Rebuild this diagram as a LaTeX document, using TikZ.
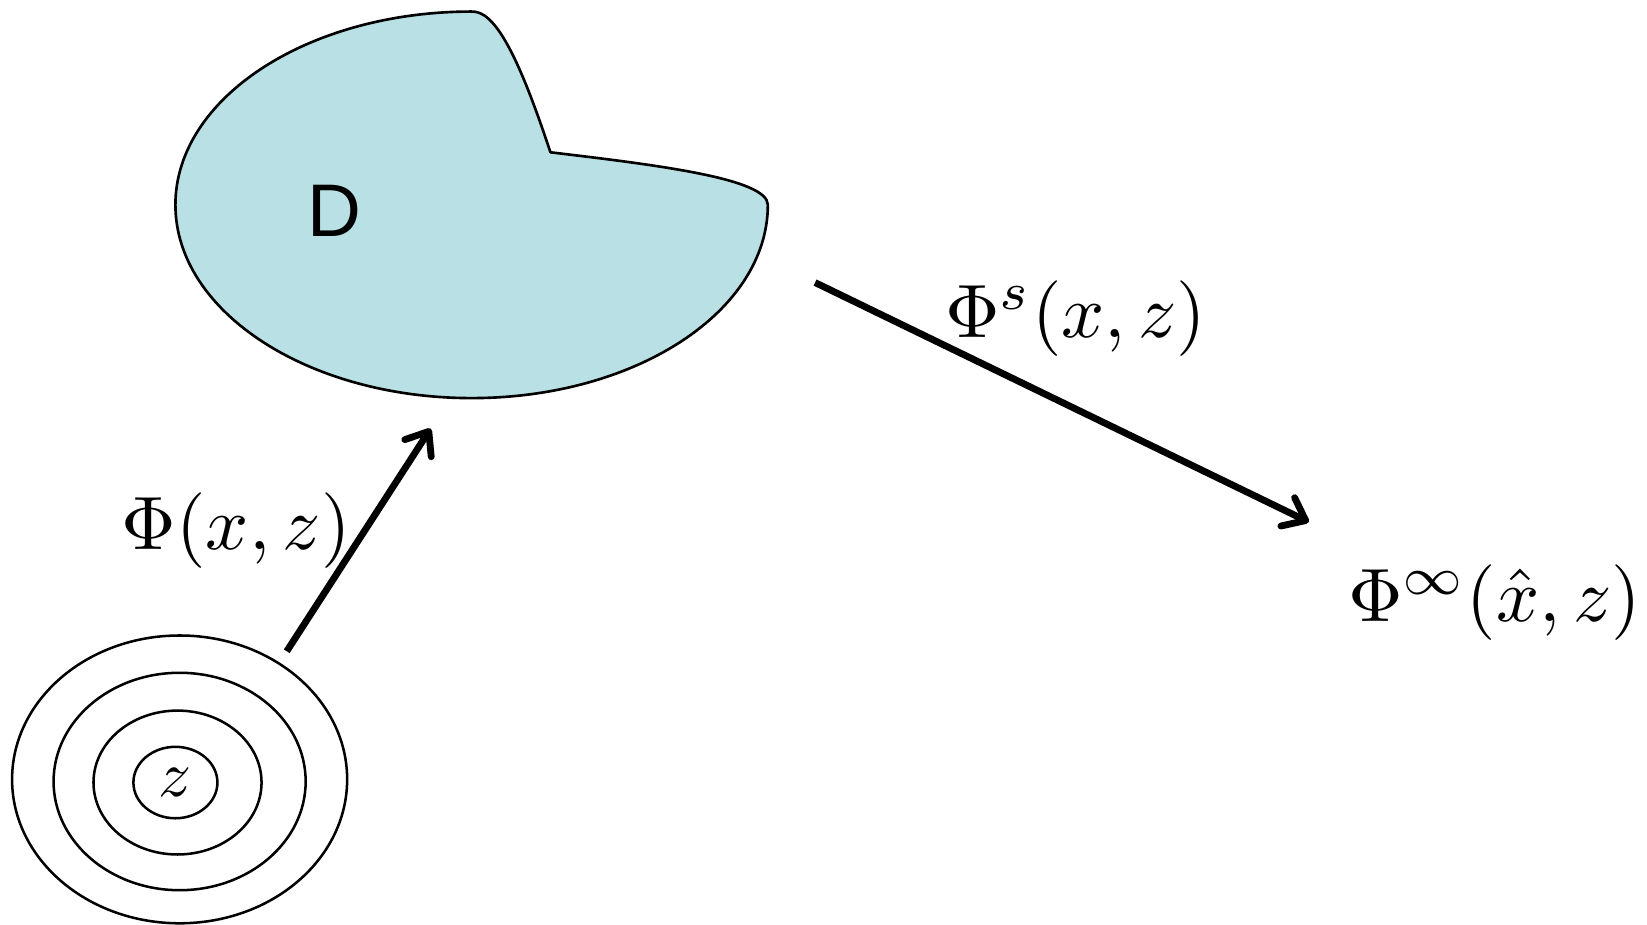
\documentclass[tikz,border=0pt]{standalone}
\usepackage[no-math]{fontspec}
\newfontfamily\arialfont{Liberation Sans}
\usetikzlibrary{arrows.meta,shapes.geometric}
\definecolor{dfill}{RGB}{185,224,228}
\tikzset{
  ring/.style={ellipse, draw, line width=2.4pt, inner sep=0pt},
  arr/.style={line width=6.5pt, -{Straight Barb[length=19pt,width=30pt,round]}},
  lab/.style={inner sep=0pt, scale=7.2, transform shape},
}
\begin{document}
\begin{tikzpicture}[x=1pt,y=-1pt]
\useasboundingbox (0,0) rectangle (1568,880);
% domain D
\draw[fill=dfill, line width=2.5pt, line join=round]
  (524,145) .. controls (625,157) and (731,170) .. (731,195)
  arc[start angle=0, end angle=270, x radius=282, y radius=184]
  .. controls (470,10) and (492,48) .. cycle;
\node[font=\arialfont, inner sep=0pt, scale=7.1, transform shape] (D) at (318,201) {D};
% rings around z
\node[ring, minimum width=319pt, minimum height=274pt] (r4) at (171,742) {};
\node[ring, minimum width=240pt, minimum height=207pt] (r3) at (171,744) {};
\node[ring, minimum width=160pt, minimum height=137pt] (r2) at (169,745) {};
\node[ring, minimum width=80pt, minimum height=68pt] (r1) at (167,745) {};
\node[inner sep=0pt, scale=6.2, transform shape] (z) at (167,745) {$z$};
% arrows
\coordinate (a1s) at (273,620);
\coordinate (a1e) at (410,408);
\coordinate (a2s) at (776,269);
\coordinate (a2e) at (1246,497);
\draw[arr] (a1s) -- (a1e);
\draw[arr] (a2s) -- (a2e);
% labels
\node[lab] (l1) at (225,505) {$\Phi(x,z)$};
\node[lab] (l2) at (1024,303) {$\Phi^s(x,z)$};
\node[lab] (l3) at (1423,574) {$\Phi^\infty(\hat{x},z)$};
\end{tikzpicture}
\end{document}
